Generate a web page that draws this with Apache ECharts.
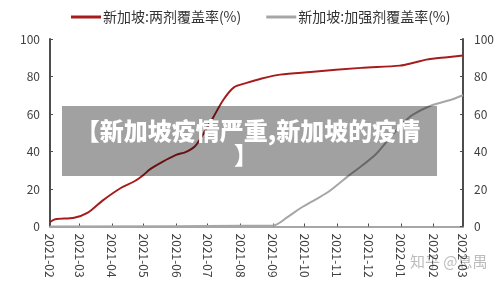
<!DOCTYPE html>
<html>
<head>
<meta charset="utf-8">
<script src="https://cdn.jsdelivr.net/npm/echarts@6/dist/echarts.min.js"></script>
<style>
html,body{margin:0;padding:0;background:#fff;}
#chart{width:500px;height:282px;}
</style>
</head>
<body>
<div id="chart"></div>
<script>
const monthLabels = ['2021-02','2021-03','2021-04','2021-05','2021-06','2021-07','2021-08','2021-09','2021-10','2021-11','2021-12','2022-01','2022-02','2022-03'];
const yTicks = [0, 20, 40, 60, 80, 100];

const seriesNames = ['新加坡:两剂覆盖率(%)', '新加坡:加强剂覆盖率(%)'];

const twoDoseDates = ['2021-02-01','2021-02-06','2021-02-24','2021-03-09','2021-03-23','2021-04-09','2021-04-22','2021-05-01','2021-05-07','2021-05-19','2021-06-01','2021-06-10','2021-06-19','2021-06-26','2021-07-06','2021-07-16','2021-07-26','2021-08-07','2021-08-20','2021-09-08','2021-10-07','2021-11-24','2021-12-31','2022-01-13','2022-01-25','2022-02-14','2022-03-01'];
const twoDoseValues = [2.4,3.9,4.7,7.4,13.8,20.4,24.0,27.5,30.5,34.5,38.2,39.7,42.8,48.5,57.9,67.6,74.2,76.6,78.7,81.0,82.4,84.6,85.8,87.3,89.0,90.3,91.2];

const boosterDates = ['2021-02-01','2021-09-01','2021-09-15','2021-09-28','2021-10-12','2021-10-24','2021-11-12','2021-11-25','2021-12-08','2021-12-21','2022-01-01','2022-01-12','2022-01-31','2022-02-17','2022-03-01'];
const boosterValues = [0,0.5,5.0,10.0,14.5,18.5,27.0,32.5,38.5,47.0,54.0,59.5,64.8,67.5,70.0];

// daily category list spanning the month range
const days = [];
(function(){
  const [sy, sm] = monthLabels[0].split('-').map(Number);
  const [ey, em] = monthLabels[monthLabels.length-1].split('-').map(Number);
  let t = Date.UTC(sy, sm-1, 1);
  const end = Date.UTC(ey, em-1, 1);
  while (t <= end) {
    days.push(new Date(t).toISOString().slice(0,10));
    t += 86400000;
  }
})();
const isMonthStart = (idx, val) => val.endsWith('-01') && monthLabels.indexOf(val.slice(0,7)) >= 0;

const chart = echarts.init(document.getElementById('chart'), null, {renderer:'canvas'});
const font = '"Noto Sans CJK SC","Noto Sans",sans-serif';
const yAxisBase = {
  type:'value', min:0, max:100, interval:20,
  splitLine:{show:false},
  axisLine:{show:true, lineStyle:{color:'#4d4d4d', width:2}},
  axisTick:{show:true, inside:true, length:3, lineStyle:{color:'#4d4d4d'}},
  axisLabel:{color:'#404040', fontSize:12, fontFamily:font, margin:10}
};
chart.setOption({
  animation:false,
  textStyle:{fontFamily:font},
  legend:{
    left:66, top:5, itemGap:25, itemWidth:30, itemHeight:3, icon:'rect',
    textStyle:{fontSize:14, color:'#333', fontFamily:font, padding:[0,0,0,-3]},
    data:seriesNames
  },
  grid:{left:50, right:37, top:39, height:187.5},
  xAxis:{
    type:'category', data:days, boundaryGap:false,
    axisLine:{lineStyle:{color:'#a6a6a6', width:2}},
    axisTick:{show:true, inside:true, length:3, interval:isMonthStart, lineStyle:{color:'#4d4d4d'}},
    axisLabel:{interval:isMonthStart, rotate:-90, margin:7, color:'#404040', fontSize:12, fontFamily:font,
      formatter:v=>v.slice(0,7)}
  },
  yAxis:[
    Object.assign({}, yAxisBase, {position:'left'}),
    Object.assign({}, yAxisBase, {position:'right', axisLabel:Object.assign({}, yAxisBase.axisLabel, {margin:11})})
  ],
  series:[
    {name:seriesNames[0], type:'line', yAxisIndex:0, symbol:'none', smooth:0.3,
     color:'#a61c1c', lineStyle:{width:2, color:'#a61c1c'},
     data:twoDoseDates.map((d,i)=>[d, twoDoseValues[i]])},
    {name:seriesNames[1], type:'line', yAxisIndex:0, symbol:'none', smooth:0.3,
     color:'#a6a6a6', lineStyle:{width:2, color:'#a6a6a6'},
     data:boosterDates.map((d,i)=>[d, boosterValues[i]])}
  ],
  graphic:[
    {type:'text', left:410, top:254, z:-1, style:{text:'知乎 @息禺', fill:'rgba(160,160,160,0.7)', font:'15px '+font}},
    {type:'rect', shape:{x:62, y:106, width:375, height:70}, z:100, style:{fill:'rgba(0,0,0,0.37)'}},
    {type:'text', z:101, x:248, y:131, style:{text:'【新加坡疫情严重,新加坡的疫情', fill:'#fff', font:'900 24px '+font, textAlign:'center', textVerticalAlign:'middle'}},
    {type:'text', z:101, x:246, y:155, style:{text:'】', fill:'#fff', font:'900 24px '+font, textAlign:'center', textVerticalAlign:'middle'}}
  ]
});
</script>
</body>
</html>
